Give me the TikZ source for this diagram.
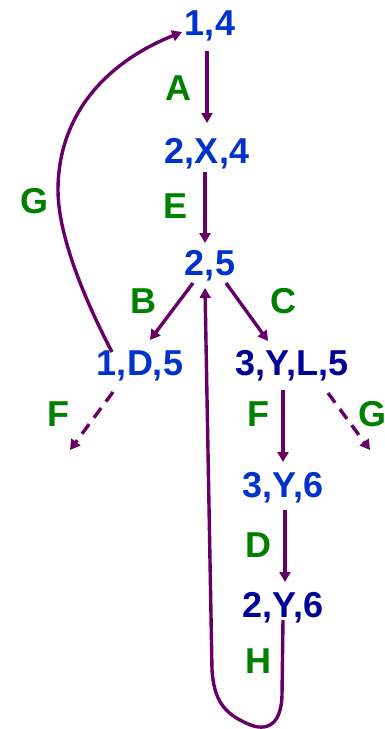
\documentclass[tikz,border=0pt]{standalone}
\usepackage{fontspec}
\setmainfont{Liberation Sans}
\usetikzlibrary{arrows.meta}
\definecolor{stblue}{HTML}{0033CC}
\definecolor{stdark}{HTML}{000099}
\definecolor{lblgreen}{HTML}{008000}
\definecolor{arrpurple}{HTML}{660066}
\begin{document}
\begin{tikzpicture}[x=1pt,y=-1pt,
  txt/.style={inner sep=0pt, anchor=base, font=\fontsize{36}{40}\selectfont\bfseries},
  st/.style={txt, text=stblue},
  stdk/.style={txt, text=stdark},
  lbl/.style={txt, text=lblgreen},
  edge/.style={draw=arrpurple, line width=3.4pt, -{Triangle[length=10pt,width=11pt]}},
  dashedge/.style={edge, dash pattern=on 12pt off 8pt}
]
\useasboundingbox (0,0) rectangle (385,729);
% states
\node[st]   (s14)  at (210,35)  {1,4};
\node[st]   (s2x4) at (207,163) {2,X,4};
\node[st]   (s25)  at (210,275) {2,5};
\node[st]   (s1d5) at (140,375) {1,D,5};
\node[stdk] (s3yl5) at (292,375) {3,Y,L,5};
\node[st]   (s3y6) at (283,497) {3,Y,6};
\node[stdk] (s2y6) at (283,617) {2,Y,6};
% labels
\node[lbl] (lA) at (178,100) {A};
\node[lbl] (lE) at (176,218) {E};
\node[lbl] (lG1) at (35,213) {G};
\node[lbl] (lB) at (143,313) {B};
\node[lbl] (lC) at (283,313) {C};
\node[lbl] (lF1) at (58,426) {F};
\node[lbl] (lF2) at (258,426) {F};
\node[lbl] (lG2) at (372,426) {G};
\node[lbl] (lD) at (258,557) {D};
\node[lbl] (lH) at (258,673) {H};
% free ends of dashed arrows
\coordinate (dl) at (70,450);
\coordinate (dr) at (370,450);
% edges
\draw[edge] ([xshift=-3pt,yshift=-16pt]s14.base) -- ([yshift=40pt]s2x4.base);
\draw[edge] ([xshift=-2pt,yshift=-9pt]s2x4.base) -- ([xshift=-5pt,yshift=32pt]s25.base);
\draw[edge] ([xshift=-17pt,yshift=-8pt]s25.base) -- ([xshift=10pt,yshift=35pt]s1d5.base);
\draw[edge] ([xshift=16pt,yshift=-8pt]s25.base) -- ([xshift=-24pt,yshift=34pt]s3yl5.base);
\draw[dashedge] ([xshift=-27pt,yshift=-17pt]s1d5.base) -- (dl);
\draw[edge] ([xshift=-9pt,yshift=-15pt]s3yl5.base) -- ([yshift=35pt]s3y6.base);
\draw[dashedge] ([xshift=36pt,yshift=-18pt]s3yl5.base) -- (dr);
\draw[edge] ([xshift=2pt,yshift=-13pt]s3y6.base) -- ([xshift=2pt,yshift=35pt]s2y6.base);
% H loop back to 2,5
\draw[edge] ([yshift=-3pt]s2y6.base) -- (282,695)
  .. controls (281,730) and (262,731) .. (246,723)
  .. controls (224,713) and (214,700) .. (212,670)
  -- ([xshift=-5pt,yshift=-13pt]s25.base);
% G loop back to 1,4
\draw[edge] ([xshift=-28pt,yshift=23pt]s1d5.base)
  .. controls (90,310) and (58,240) .. (58,190)
  .. controls (58,120) and (100,65) .. ([xshift=-28pt,yshift=3pt]s14.base);
\end{tikzpicture}
\end{document}
